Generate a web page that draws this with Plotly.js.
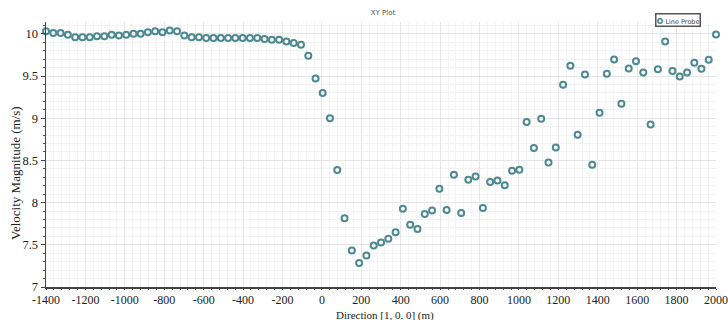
<!DOCTYPE html>
<html>
<head>
<meta charset="utf-8">
<script src="https://cdn.plot.ly/plotly-3.0.1.min.js"></script>
<style>html,body{margin:0;padding:0;background:#fff;}#chart{width:728px;height:320px;}</style>
</head>
<body>
<div id="chart"></div>
<script>
// Direction [1, 0, 0] (m)
var direction = [
  -1400, -1363, -1326, -1289, -1252, -1215, -1178, -1141, -1104, -1067,
  -1030, -993, -956, -920, -883, -846, -809, -772, -735, -698,
  -661, -624, -587, -550, -513, -476, -439, -402, -365, -328,
  -291, -254, -217, -180, -143, -106, -69, -32, 4, 41,
  78, 115, 152, 189, 226, 263, 300, 337, 374, 411,
  448, 485, 522, 559, 596, 633, 670, 707, 743, 780,
  817, 854, 891, 928, 965, 1002, 1039, 1076, 1113, 1150,
  1187, 1224, 1261, 1298, 1335, 1372, 1409, 1446, 1483, 1520,
  1557, 1594, 1631, 1668, 1705, 1742, 1779, 1816, 1853, 1890,
  1926, 1963, 2000
];
// Velocity Magnitude (m/s)
var velocity = [
  10.03, 10.01, 10.01, 9.99, 9.96, 9.96, 9.96, 9.97, 9.97, 9.99,
  9.98, 9.99, 10.00, 10.00, 10.02, 10.03, 10.02, 10.04, 10.03, 9.98,
  9.96, 9.96, 9.95, 9.95, 9.95, 9.95, 9.95, 9.95, 9.95, 9.95,
  9.94, 9.93, 9.93, 9.91, 9.89, 9.87, 9.74, 9.47, 9.30, 9.00,
  8.385, 7.816, 7.433, 7.283, 7.373, 7.492, 7.527, 7.571, 7.65, 7.927,
  7.737, 7.686, 7.864, 7.906, 8.164, 7.911, 8.329, 7.876, 8.270, 8.309,
  7.935, 8.243, 8.262, 8.207, 8.377, 8.389, 8.954, 8.646, 8.993, 8.475,
  8.653, 9.396, 9.621, 8.803, 9.518, 8.448, 9.064, 9.526, 9.696, 9.171,
  9.589, 9.676, 9.542, 8.925, 9.581, 9.909, 9.558, 9.494, 9.542, 9.656,
  9.585, 9.692, 9.992
];
var xTicks = [-1400, -1200, -1000, -800, -600, -400, -200, 0, 200, 400, 600, 800, 1000, 1200, 1400, 1600, 1800, 2000];
var yTicks = [7, 7.5, 8, 8.5, 9, 9.5, 10];
var yTickText = ['7', '7.5', '8', '8.5', '9', '9.5', '10'];
var seriesName = 'Line Probe';
var xTitle = 'Direction [1, 0. 0] (m)';
var yTitle = 'Velocity Magnitude (m/s)';

var markerColor = '#4d8992';
var serif = 'Liberation Serif, Times New Roman, serif';
var sans = 'DejaVu Sans, sans-serif';

var trace = {
  x: direction,
  y: velocity,
  type: 'scatter',
  mode: 'markers',
  name: seriesName,
  showlegend: false,
  cliponaxis: false,
  marker: {
    symbol: 'circle-open',
    size: 6,
    color: markerColor,
    line: {width: 2, color: markerColor}
  }
};

var layout = {
  width: 728,
  height: 320,
  margin: {l: 46, r: 12, t: 22, b: 33},
  paper_bgcolor: '#ffffff',
  plot_bgcolor: '#ffffff',
  title: {
    text: 'XY Plot',
    x: 383 / 728, xref: 'container', xanchor: 'center',
    y: 1 - 12.5 / 320, yref: 'container', yanchor: 'middle',
    font: {family: sans, size: 7, color: '#555'}
  },
  showlegend: false,
  annotations: [
    {
      // legend box
      xref: 'paper', yref: 'paper',
      x: 0.978, xanchor: 'right',
      y: 1.035, yanchor: 'top',
      showarrow: false,
      text: '<span style="font-size:10px;color:' + markerColor + '"><b>o</b></span> ' + seriesName,
      font: {family: sans, size: 6.5, color: '#444'},
      bgcolor: '#ffffff',
      bordercolor: '#555555',
      borderwidth: 1.5,
      borderpad: 0
    },
    {
      // y axis title
      xref: 'paper', yref: 'paper',
      x: -31 / 670, xanchor: 'center',
      y: 0.0, yanchor: 'middle',
      yshift: 287 - 173,
      textangle: -90,
      showarrow: false,
      text: yTitle,
      font: {family: serif, size: 13, color: '#222'}
    },
    {
      // x axis title
      xref: 'paper', yref: 'paper',
      x: 0.5, xanchor: 'center', xshift: 4,
      y: 0.0, yanchor: 'top',
      yshift: -20.5,
      showarrow: false,
      borderpad: 0,
      text: xTitle,
      font: {family: serif, size: 11, color: '#222'}
    }
  ],
  xaxis: {
    range: [-1400, 2000],
    tickmode: 'array',
    tickvals: xTicks,
    ticktext: xTicks.map(String),
    ticklabeloverflow: 'allow',
    showgrid: true,
    gridcolor: '#e6e6e6',
    gridwidth: 1,
    zeroline: false,
    showline: true,
    linecolor: '#444',
    linewidth: 1.5,
    ticks: 'outside',
    ticklen: 1,
    tickcolor: '#444',
    minor: {dtick: 40, showgrid: true, gridcolor: '#f4f4f4', ticks: 'outside', ticklen: 1, tickcolor: '#555'},
    tickfont: {family: serif, size: 12, color: '#222'}
  },
  yaxis: {
    range: [7, 10.14],
    tickmode: 'array',
    tickvals: yTicks,
    ticktext: yTickText,
    showgrid: true,
    gridcolor: '#e6e6e6',
    gridwidth: 1,
    zeroline: false,
    showline: true,
    linecolor: '#444',
    linewidth: 1.5,
    ticks: 'outside',
    ticklen: 4,
    tickcolor: '#444',
    minor: {dtick: 0.1, showgrid: true, gridcolor: '#f2f2f2', ticks: 'outside', ticklen: 2, tickcolor: '#555'},
    tickfont: {family: serif, size: 12.5, color: '#222'}
  }
};

Plotly.newPlot('chart', [trace], layout, {displayModeBar: false, staticPlot: true});
</script>
</body>
</html>
